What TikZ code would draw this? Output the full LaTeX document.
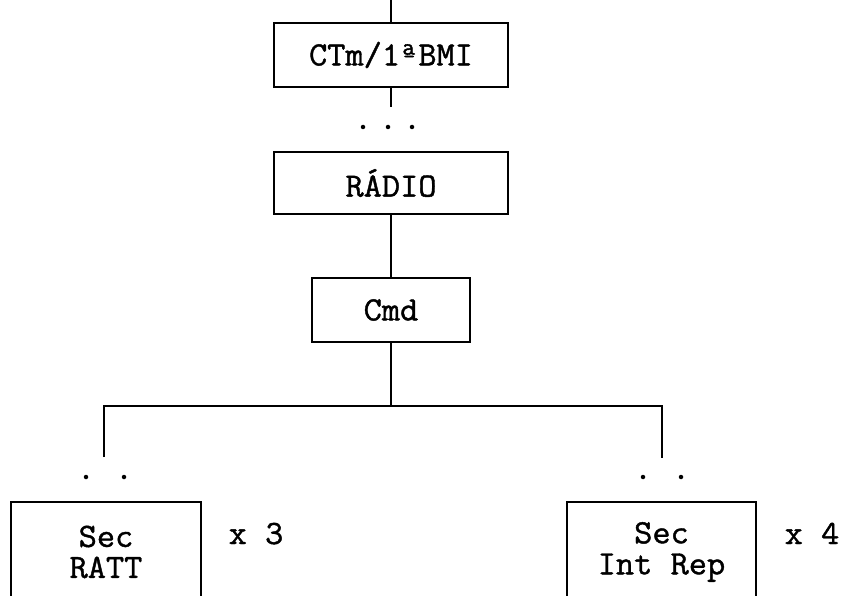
\documentclass[tikz,border=0pt]{standalone}
\usepackage{fontspec}
\setmonofont[FakeBold=1.2,FakeStretch=1.04]{Latin Modern Mono}
\begin{document}
\begin{tikzpicture}[x=1pt,y=-1pt,
  box/.style={draw, line width=1.8pt, inner sep=0pt, align=center,
    font=\ttfamily\fontsize{34}{31}\selectfont},
  lbl/.style={inner sep=0pt, anchor=base, font=\ttfamily\fontsize{34}{31}\selectfont},
  dotmark/.style={circle, fill, inner sep=0pt, minimum size=4.5pt},
  conn/.style={line width=1.8pt}]
\clip (0,0) rectangle (843,596);
\fill[white] (0,0) rectangle (843,596);
% boxes
\node[box, minimum width=234pt, minimum height=64pt] (ctm) at (391,55) {CTm/1ªBMI};
\node[box, minimum width=234pt, minimum height=62pt] (rad) at (391,183) {RÁDIO};
\node[box, minimum width=158pt, minimum height=64pt] (cmd) at (391,310) {Cmd};
\node[box, minimum width=190pt, minimum height=100pt] (secA) at (106,552) {Sec\\RATT};
\node[box, minimum width=189pt, minimum height=100pt] (secB) at (661.5,552) {Sec\\Int Rep};
% multiplicity labels
\node[lbl] (mA) at (256,544) {x 3};
\node[lbl] (mB) at (812,544) {x 4};
% coordinates
\coordinate (topend) at (ctm.north |- 0,-2);
\coordinate (ctmtail) at (ctm.south |- 0,107);
\coordinate (junc) at (cmd.south |- 0,406);
\coordinate (leftc) at (104,406);
\coordinate (rightc) at (662,406);
\coordinate (leftend) at (104,457);
\coordinate (rightend) at (662,458);
% dots
\node[dotmark] (d1) at (363,127) {};
\node[dotmark] (d2) at (388,127) {};
\node[dotmark] (d3) at (412,127) {};
\node[dotmark] (d4) at (86,477) {};
\node[dotmark] (d5) at (124,477) {};
\node[dotmark] (d6) at (643,477) {};
\node[dotmark] (d7) at (681,477) {};
% connectors
\draw[conn] (topend) -- (ctm.north);
\draw[conn] (ctm.south) -- (ctmtail);
\draw[conn] (rad.south) -- (cmd.north);
\draw[conn] (cmd.south) -- (junc);
\draw[conn] (leftend) -- (leftc) -- (rightc) -- (rightend);
\end{tikzpicture}
\end{document}
